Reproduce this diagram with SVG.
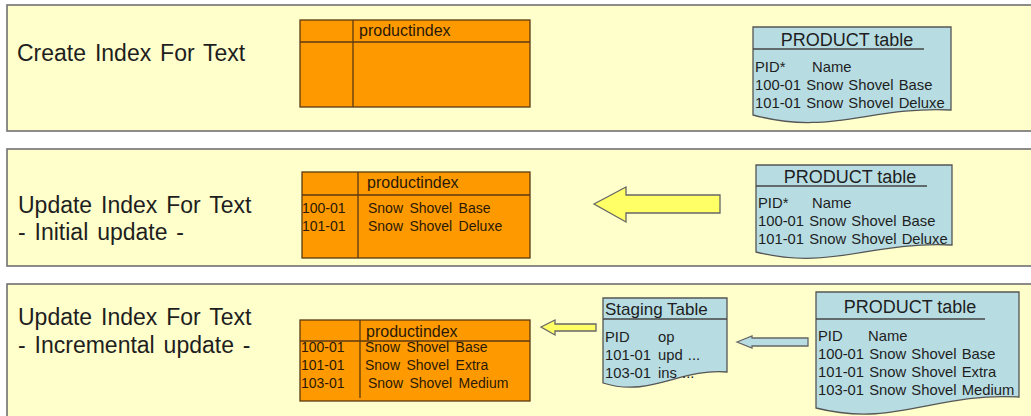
<svg xmlns="http://www.w3.org/2000/svg" width="1031" height="416" viewBox="0 0 1031 416">
<defs>
<style>
.band{fill:#FFFFCC;stroke:#707070;stroke-width:1.6}
.idx{fill:#FF9900;stroke:#5a3a12;stroke-width:1.3}
.ln{stroke:#5a3a12;stroke-width:1.3;fill:none}
.doc{fill:#B7DDE3;stroke:#555;stroke-width:1.3}
.dl{stroke:#444;stroke-width:1.3;fill:none}
.arrY{fill:#FFFF66;stroke:#666;stroke-width:1.3}
.arrB{fill:#B7DDE3;stroke:#666;stroke-width:1.3}
text{font-family:"Liberation Sans",Arial,sans-serif;fill:#1e1e1e}
.big{font-size:23px;word-spacing:2.5px}
.hdr{font-size:16px;fill:#2a1a05}
.row{font-size:14px;fill:#2a1a05;word-spacing:2.5px}
.dt{font-size:18px}
.dr{font-size:14.8px;word-spacing:1px}
</style>
</defs>
<rect width="1031" height="416" fill="#ffffff"/>
<g id="band1">
<rect class="band" x="7" y="5" width="1030" height="126"/>
<text class="big" x="17" y="61">Create Index For Text</text>
</g>
<g id="band2">
<rect class="band" x="7" y="149" width="1030" height="117"/>
<text class="big" x="18" y="213">Update Index For Text</text>
<text class="big" x="18" y="240">- Initial update -</text>
</g>
<g id="band3">
<rect class="band" x="7" y="284" width="1030" height="140"/>
<text class="big" x="18" y="325">Update Index For Text</text>
<text class="big" x="18" y="353">- Incremental update -</text>
</g>
<g id="productindex1">
<rect class="idx" x="300" y="20" width="230" height="87"/>
<line class="ln" x1="300" y1="42" x2="530" y2="42"/>
<line class="ln" x1="353" y1="20" x2="353" y2="107"/>
<text class="hdr" x="359" y="36">productindex</text>
</g>
<g id="productindex2">
<rect class="idx" x="302" y="172" width="228" height="86"/>
<line class="ln" x1="302" y1="195" x2="530" y2="195"/>
<line class="ln" x1="358" y1="172" x2="358" y2="258"/>
<text class="hdr" x="367" y="188">productindex</text>
<text class="row" x="302" y="213">100-01</text>
<text class="row" x="302" y="231">101-01</text>
<text class="row" x="368" y="213">Snow Shovel Base</text>
<text class="row" x="368" y="231">Snow Shovel Deluxe</text>
</g>
<g id="productindex3">
<rect class="idx" x="300" y="320" width="230" height="81"/>
<line class="ln" x1="300" y1="341" x2="530" y2="341"/>
<line class="ln" x1="360" y1="320" x2="360" y2="398"/>
<text class="hdr" x="366" y="337">productindex</text>
<text class="row" x="301" y="352">100-01</text>
<text class="row" x="301" y="370">101-01</text>
<text class="row" x="301" y="388">103-01</text>
<text class="row" x="365" y="352">Snow Shovel Base</text>
<text class="row" x="365" y="370">Snow Shovel Extra</text>
<text class="row" x="368" y="388">Snow Shovel Medium</text>
</g>
<g id="product1">
<path class="doc" d="M753,27 H951 V110 C870,106 830,136 753,115 Z"/>
<line class="dl" x1="753" y1="49" x2="924" y2="49"/>
<text class="dt" x="847" y="46" text-anchor="middle">PRODUCT table</text>
<text class="dr" x="755" y="72">PID*</text>
<text class="dr" x="812" y="72">Name</text>
<text class="dr" x="755" y="90">100-01 Snow Shovel Base</text>
<text class="dr" x="755" y="108">101-01 Snow Shovel Deluxe</text>
</g>
<g id="product2">
<path class="doc" d="M756,165 H952 V245 C870,241 830,271 756,252 Z"/>
<line class="dl" x1="756" y1="186" x2="927" y2="186"/>
<text class="dt" x="850" y="183" text-anchor="middle">PRODUCT table</text>
<text class="dr" x="758" y="208">PID*</text>
<text class="dr" x="812" y="208">Name</text>
<text class="dr" x="758" y="226">100-01 Snow Shovel Base</text>
<text class="dr" x="758" y="244">101-01 Snow Shovel Deluxe</text>
</g>
<g id="staging">
<path class="doc" d="M603,298 H727 V372 C680,368 650,398 603,383 Z"/>
<line class="dl" x1="603" y1="319" x2="727" y2="319"/>
<text class="dt" x="605" y="315" style="font-size:17px">Staging Table</text>
<text class="dr" x="605" y="342">PID</text>
<text class="dr" x="658" y="342">op</text>
<text class="dr" x="605" y="360">101-01</text>
<text class="dr" x="658" y="360">upd ...</text>
<text class="dr" x="605" y="378">103-01</text>
<text class="dr" x="658" y="378">ins ...</text>
</g>
<g id="product3">
<path class="doc" d="M816,292 H1019 V397 C935,392 895,428 816,408 Z"/>
<line class="dl" x1="816" y1="319" x2="985" y2="319"/>
<text class="dt" x="910" y="313" text-anchor="middle">PRODUCT table</text>
<text class="dr" x="818" y="341">PID</text>
<text class="dr" x="868" y="341">Name</text>
<text class="dr" x="818" y="359">100-01 Snow Shovel Base</text>
<text class="dr" x="818" y="377">101-01 Snow Shovel Extra</text>
<text class="dr" x="818" y="395">103-01 Snow Shovel Medium</text>
</g>
<g id="connectors">
<polygon class="arrY" points="594,204 626,187 626,195 720,195 720,213 626,213 626,222"/>
<polygon class="arrY" points="541,327 555,320 555,324 596,324 596,331 555,331 555,335"/>
<polygon class="arrB" points="737,342 752,336 752,338 808,338 808,346 752,346 752,348"/>
</g>
</svg>
